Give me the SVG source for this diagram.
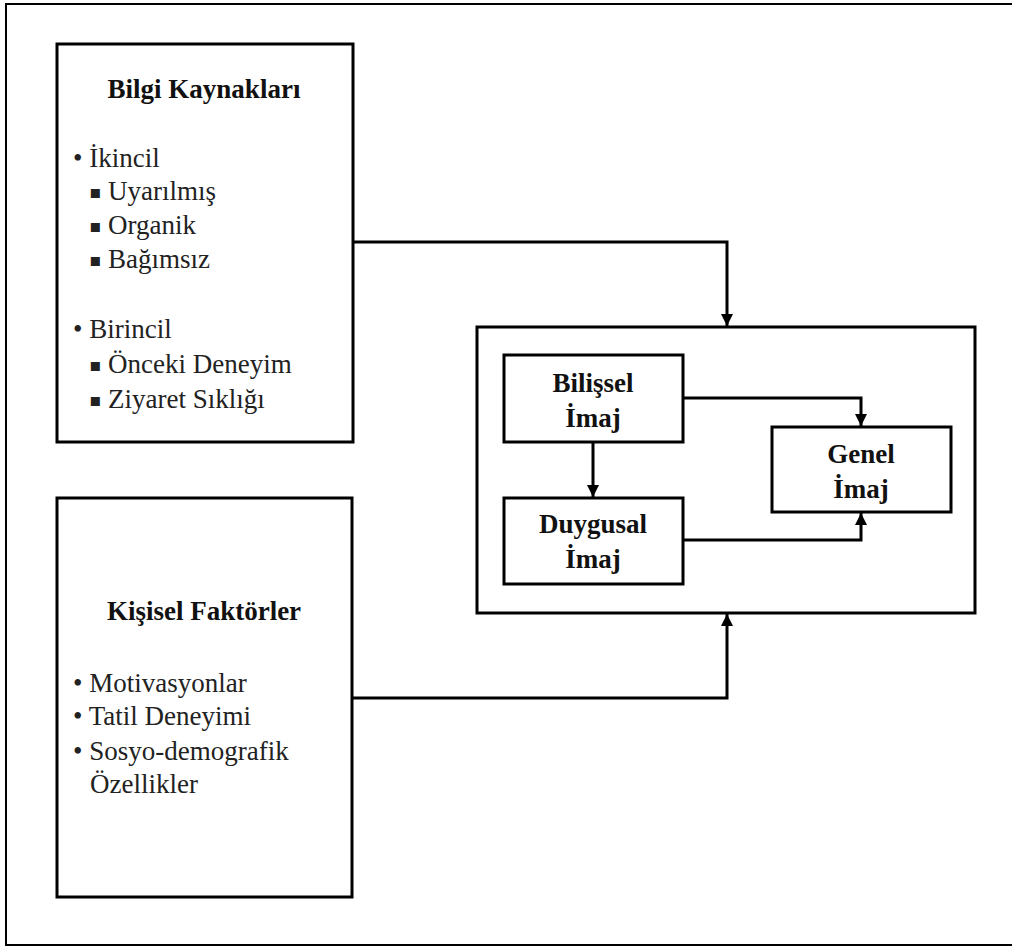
<svg xmlns="http://www.w3.org/2000/svg" width="1012" height="947" viewBox="0 0 1012 947">
<style>
.t{font-family:"Liberation Serif","Times New Roman",Tinos,"DejaVu Serif",serif;font-size:27px;fill:#222;font-weight:normal;font-style:normal}
.b{font-weight:bold;text-anchor:middle;fill:#111}
.box{fill:#fff;stroke:#000;stroke-width:3}
.sq{font-family:"DejaVu Sans",sans-serif;font-size:18px;baseline-shift:2px}
.c{fill:none;stroke:#000;stroke-width:3}
</style>
<defs>
<marker id="ah" markerUnits="userSpaceOnUse" markerWidth="12" markerHeight="12" viewBox="0 0 12 12" refX="12" refY="6" orient="auto">
<path d="M0,0 L12,6 L0,12 Z" fill="#000"/>
</marker>
</defs>
<rect x="0" y="0" width="1012" height="947" fill="#fff"/>
<rect x="6" y="4" width="1010" height="941" fill="none" stroke="#000" stroke-width="2"/>
<g id="bilgi">
<rect class="box" x="57" y="44" width="296" height="398"/>
<text class="t b" x="204" y="98">Bilgi Kaynakları</text>
<text class="t" x="73" y="167">• İkincil</text>
<text class="t" x="89" y="200"><tspan class="sq">▪</tspan> Uyarılmış</text>
<text class="t" x="89" y="234"><tspan class="sq">▪</tspan> Organik</text>
<text class="t" x="89" y="268"><tspan class="sq">▪</tspan> Bağımsız</text>
<text class="t" x="73" y="338">• Birincil</text>
<text class="t" x="89" y="373"><tspan class="sq">▪</tspan> Önceki Deneyim</text>
<text class="t" x="89" y="408"><tspan class="sq">▪</tspan> Ziyaret Sıklığı</text>
</g>
<g id="kisisel">
<rect class="box" x="57" y="498" width="295" height="399"/>
<text class="t b" x="204" y="620">Kişisel Faktörler</text>
<text class="t" x="73" y="692">• Motivasyonlar</text>
<text class="t" x="73" y="725">• Tatil Deneyimi</text>
<text class="t" x="73" y="760">• Sosyo-demografik</text>
<text class="t" x="90" y="793">Özellikler</text>
</g>
<g id="imaj">
<rect class="box" x="477" y="327" width="498" height="286"/>
</g>
<g id="bilissel">
<rect class="box" x="504" y="355" width="179" height="87"/>
<text class="t b" x="593" y="392">Bilişsel</text>
<text class="t b" x="593" y="427">İmaj</text>
</g>
<g id="duygusal">
<rect class="box" x="504" y="498" width="179" height="86"/>
<text class="t b" x="593" y="533">Duygusal</text>
<text class="t b" x="593" y="568">İmaj</text>
</g>
<g id="genel">
<rect class="box" x="772" y="427" width="179" height="85"/>
<text class="t b" x="861" y="463">Genel</text>
<text class="t b" x="861" y="498">İmaj</text>
</g>
<g id="connectors">
<path class="c" d="M353,242 H727 V326" marker-end="url(#ah)"/>
<path class="c" d="M352,698 H727 V614" marker-end="url(#ah)"/>
<path class="c" d="M593,442 V497" marker-end="url(#ah)"/>
<path class="c" d="M683,398 H861 V426" marker-end="url(#ah)"/>
<path class="c" d="M683,540 H861 V513" marker-end="url(#ah)"/>
</g>
</svg>
